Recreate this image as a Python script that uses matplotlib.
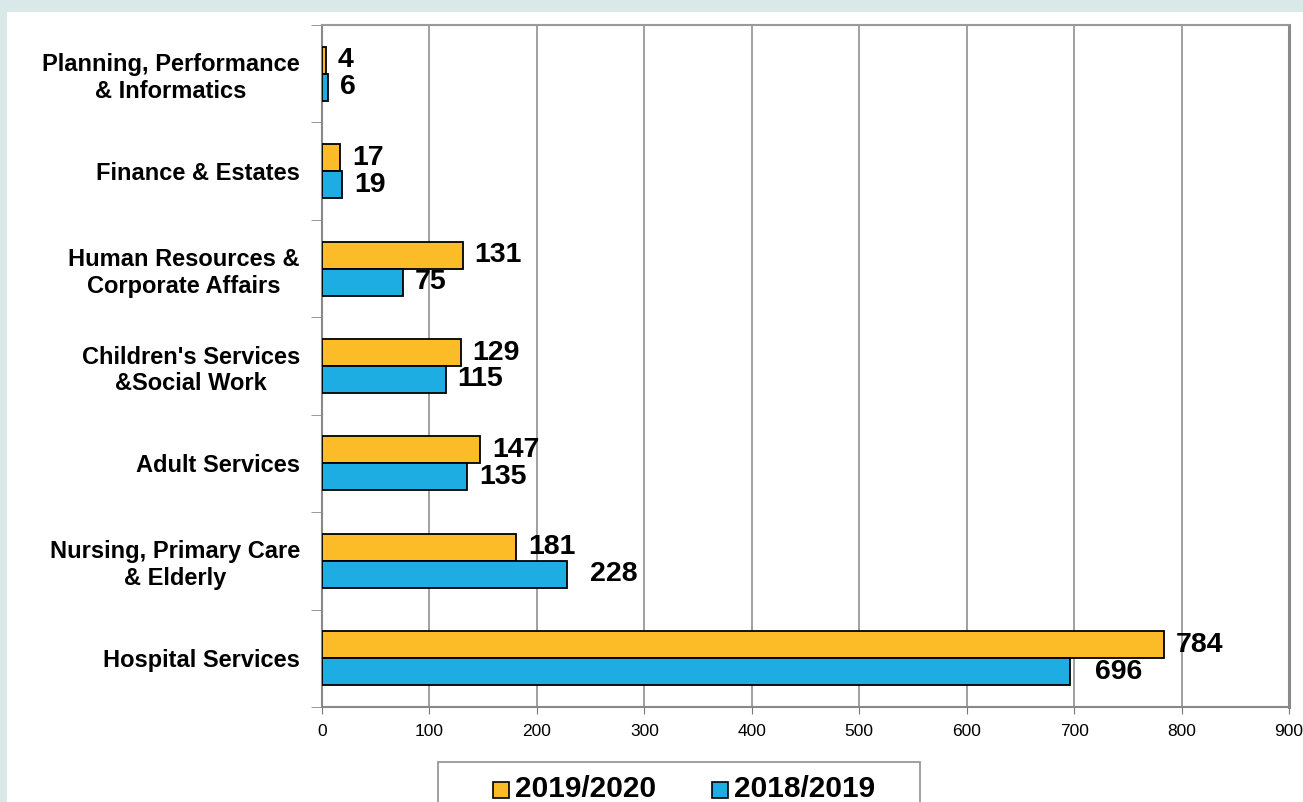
import numpy as np
import matplotlib.pyplot as plt
from matplotlib.patches import Rectangle

plt.rcParams['font.family'] = ['Liberation Sans', 'DejaVu Sans']

# data, bottom category first
categories = ['Hospital Services', 'Nursing, Primary Care\n& Elderly', 'Adult Services',
              "Children's Services\n&Social Work", 'Human Resources &\nCorporate Affairs',
              'Finance & Estates', 'Planning, Performance\n& Informatics']
y2019_20 = [784, 181, 147, 129, 131, 17, 4]
y2018_19 = [696, 228, 135, 115, 75, 19, 6]
series_names = ['2019/2020', '2018/2019']

orange = '#FBBC28'
blue = '#1DADE2'

fig = plt.figure(figsize=(13.03, 8.02), dpi=100)
fig.patch.set_facecolor('#D9E8E8')
fig.patches.append(Rectangle((7/1303, 0), 1, 1 - 12/802, transform=fig.transFigure,
                             facecolor='white', edgecolor='none', zorder=-5))

ax = fig.add_axes([322/1303, 1 - 707/802, (1289-322)/1303, (707-25)/802])
ax.set_facecolor('white')

y = np.arange(len(categories))
h = 0.277
ax.barh(y + h/2, y2019_20, h, color=orange, edgecolor='black', linewidth=1.3, zorder=3)
ax.barh(y - h/2, y2018_19, h, color=blue, edgecolor='black', linewidth=1.3, zorder=3)

# labels a bit further out for the two longest blue bars, as in the original
gap = 11
extra_gap = {0: 12, 1: 10}
for i in range(len(categories)):
    ax.text(y2019_20[i] + gap, y[i] + h/2, str(y2019_20[i]), va='center', ha='left',
            fontsize=20.5, fontweight='bold', zorder=4)
    ax.text(y2018_19[i] + gap + extra_gap.get(i, 0), y[i] - h/2, str(y2018_19[i]),
            va='center', ha='left', fontsize=20.5, fontweight='bold', zorder=4)

ax.set_xlim(0, 900)
ax.set_ylim(-0.5, len(categories) - 0.5)
ax.set_xticks(np.arange(0, 1000, 100))
ax.tick_params(axis='x', labelsize=12.5, length=5, color='#777777', pad=7)
ax.set_yticks(y)
ax.set_yticklabels(categories, fontsize=17, fontweight='bold')
ax.tick_params(axis='y', which='major', length=0, pad=16)
ax.set_yticks(np.arange(-0.5, len(categories), 1), minor=True)
ax.tick_params(axis='y', which='minor', length=8, color='#888888')
for lab in ax.get_yticklabels():
    lab.set_multialignment('center')

ax.grid(axis='x', color='#999999', linewidth=1.3, zorder=0)
ax.set_axisbelow(True)
ax.spines['top'].set_color('#999999')
ax.spines['top'].set_linewidth(1.5)
ax.spines['right'].set_color('#8a8a8a')
ax.spines['right'].set_linewidth(2.2)
ax.spines['left'].set_color('#888888')
ax.spines['left'].set_linewidth(1.5)
ax.spines['bottom'].set_color('#888888')
ax.spines['bottom'].set_linewidth(1.5)

# legend box (cut by the bottom edge)
fig.patches.append(Rectangle((438/1303, -0.05), (920-438)/1303, 0.05 + 1 - 762/802,
                             transform=fig.transFigure, facecolor='white',
                             edgecolor='#999999', linewidth=1.3, zorder=2))
for x0, col, name in [(493, orange, series_names[0]), (712, blue, series_names[1])]:
    fig.patches.append(Rectangle((x0/1303, 1 - 798/802), 16/1303, 16/802,
                                 transform=fig.transFigure, facecolor=col,
                                 edgecolor='black', linewidth=1.2, zorder=3))
    fig.text((x0 + 22)/1303, 1 - 789/802, name, fontsize=21.5, fontweight='bold',
             va='center', ha='left', zorder=4)

fig.savefig('out.png', dpi=100, facecolor=fig.get_facecolor())
